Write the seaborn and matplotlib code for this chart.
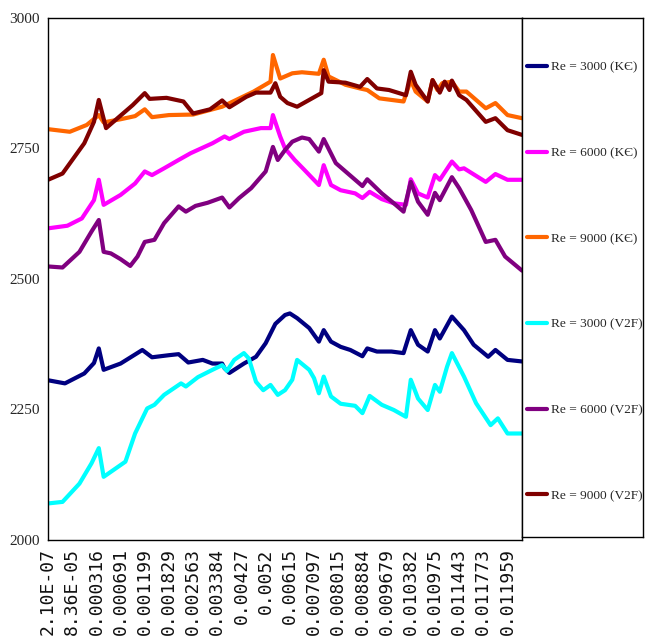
import matplotlib
matplotlib.use("Agg")
import matplotlib.pyplot as plt
import seaborn as sns
import pandas as pd

# Category labels along the x axis (one label every 10 categories)
tick_labels = ["2.10E-07", "8.36E-05", "0.000316", "0.000691", "0.001199",
               "0.001829", "0.002563", "0.003384", "0.00427", "0.0052",
               "0.00615", "0.007097", "0.008015", "0.008884", "0.009679",
               "0.010382", "0.010975", "0.011443", "0.011773", "0.011959"]
n_categories = 197
label_step = 10

series_names = ["Re = 3000 (K\u0404)", "Re = 6000 (K\u0404)", "Re = 9000 (K\u0404)",
                "Re = 3000 (V2F)", "Re = 6000 (V2F)", "Re = 9000 (V2F)"]
series_colors = ["#000080", "#ff00ff", "#ff6600", "#00ffff", "#800080", "#800000"]

# Re = 3000, k-epsilon
ke3000_idx = [0, 7, 15, 19, 21, 23, 30, 39, 43, 50, 54, 58, 64, 68, 72, 73, 75,
              81, 86, 90, 94, 98, 100, 103, 108, 112, 114, 117, 121, 125, 130,
              132, 136, 142, 147, 150, 153, 157, 160, 162, 167, 172, 176, 182,
              185, 190, 196]
ke3000_val = [2306, 2300, 2319, 2339, 2367, 2326, 2338, 2364, 2350, 2354, 2356,
              2340, 2345, 2338, 2338, 2329, 2320, 2338, 2351, 2377, 2414, 2431,
              2434, 2425, 2406, 2380, 2402, 2380, 2370, 2364, 2352, 2367, 2361,
              2361, 2358, 2402, 2374, 2361, 2402, 2386, 2428, 2402, 2374, 2351,
              2364, 2345, 2342]

# Re = 6000, k-epsilon
ke6000_idx = [0, 8, 14, 19, 21, 23, 30, 36, 40, 43, 48, 54, 59, 68, 73, 75, 81,
              88, 92, 93, 96, 98, 102, 106, 112, 114, 117, 121, 127, 130, 133,
              138, 143, 148, 150, 153, 157, 160, 162, 167, 170, 172, 181, 185,
              190, 196]
ke6000_val = [2597, 2602, 2616, 2651, 2690, 2642, 2661, 2683, 2706, 2699, 2712,
              2728, 2741, 2760, 2773, 2768, 2782, 2789, 2789, 2814, 2773, 2750,
              2728, 2709, 2680, 2718, 2680, 2670, 2664, 2655, 2667, 2653, 2645,
              2642, 2691, 2664, 2656, 2699, 2690, 2725, 2710, 2712, 2686, 2701,
              2690, 2690]

# Re = 9000, k-epsilon
ke9000_idx = [0, 9, 16, 21, 23, 30, 36, 40, 43, 50, 60, 72, 85, 92, 93, 96, 101,
              105, 112, 114, 116, 123, 129, 132, 137, 147, 150, 152, 157, 159,
              161, 163, 167, 170, 173, 181, 185, 190, 196]
ke9000_val = [2787, 2782, 2795, 2814, 2800, 2806, 2812, 2825, 2810, 2814, 2815,
              2830, 2859, 2878, 2929, 2884, 2894, 2896, 2893, 2920, 2888, 2872,
              2865, 2862, 2846, 2840, 2881, 2859, 2840, 2881, 2862, 2875, 2878,
              2859, 2859, 2827, 2837, 2814, 2808]

# Re = 3000, V2F
v2f3000_idx = [0, 6, 13, 18, 21, 23, 32, 36, 41, 44, 48, 55, 57, 62, 68, 72, 74,
               77, 81, 83, 86, 89, 92, 95, 98, 101, 103, 108, 110, 112, 114, 117,
               121, 127, 130, 133, 138, 143, 148, 150, 153, 157, 160, 162, 165,
               167, 172, 177, 183, 186, 190, 196]
v2f3000_val = [2070, 2073, 2108, 2147, 2176, 2121, 2150, 2204, 2252, 2259, 2278,
               2300, 2294, 2312, 2326, 2335, 2324, 2345, 2358, 2348, 2303, 2287,
               2297, 2278, 2287, 2307, 2345, 2326, 2310, 2281, 2313, 2275, 2261,
               2257, 2243, 2276, 2259, 2249, 2236, 2307, 2271, 2249, 2297, 2284,
               2332, 2358, 2313, 2262, 2220, 2233, 2204, 2204]

# Re = 6000, V2F
v2f6000_idx = [0, 6, 13, 18, 21, 23, 26, 30, 34, 37, 40, 44, 48, 54, 57, 61, 66,
               72, 75, 79, 84, 90, 93, 95, 98, 101, 105, 108, 112, 114, 119, 124,
               130, 132, 138, 143, 147, 150, 153, 157, 160, 162, 167, 170, 175,
               181, 185, 189, 196]
v2f6000_val = [2524, 2522, 2552, 2591, 2613, 2552, 2549, 2538, 2525, 2543, 2571,
               2575, 2607, 2639, 2629, 2640, 2646, 2656, 2637, 2655, 2674, 2706,
               2753, 2728, 2747, 2763, 2771, 2768, 2744, 2768, 2722, 2702, 2678,
               2691, 2664, 2645, 2629, 2686, 2648, 2623, 2665, 2651, 2695, 2674,
               2632, 2571, 2575, 2543, 2516]

# Re = 9000, V2F
v2f9000_idx = [0, 6, 15, 19, 21, 24, 28, 35, 40, 42, 49, 56, 60, 67, 72, 75, 82,
               86, 92, 94, 96, 99, 103, 108, 113, 114, 116, 123, 129, 132, 136,
               141, 148, 150, 152, 157, 159, 162, 164, 166, 167, 170, 173, 181,
               185, 190, 196]
v2f9000_val = [2690, 2702, 2760, 2801, 2843, 2789, 2805, 2833, 2856, 2845, 2847,
               2840, 2817, 2825, 2842, 2829, 2849, 2857, 2857, 2875, 2849, 2837,
               2830, 2843, 2856, 2900, 2878, 2876, 2868, 2883, 2865, 2862, 2852,
               2897, 2872, 2840, 2881, 2857, 2878, 2862, 2880, 2852, 2843, 2801,
               2808, 2785, 2776]

series_idx = [ke3000_idx, ke6000_idx, ke9000_idx, v2f3000_idx, v2f6000_idx, v2f9000_idx]
series_val = [ke3000_val, ke6000_val, ke9000_val, v2f3000_val, v2f6000_val, v2f9000_val]

frames = []
for name, xs, ys in zip(series_names, series_idx, series_val):
    frames.append(pd.DataFrame({"category": xs, "value": ys, "series": name}))
df = pd.concat(frames, ignore_index=True)

sns.set_style("white")
plt.rcParams["font.family"] = ["Liberation Serif", "DejaVu Serif"]

fig = plt.figure(figsize=(6.55, 6.44), dpi=100)
ax = fig.add_axes([0.0733, 0.1615, 0.7237, 0.8106])

for name, color in zip(series_names, series_colors):
    sub = df[df["series"] == name]
    sns.lineplot(data=sub, x="category", y="value", color=color, linewidth=3.0,
                 label=name, legend=False, ax=ax, sort=False)

ax.set_xlim(0, n_categories - 1)
ax.set_ylim(2000, 3000)
ax.set_yticks([2000, 2250, 2500, 2750, 3000])
ax.set_yticklabels(["2000", "2250", "2500", "2750", "3000"], fontsize=11,
                   family="Liberation Serif")
ax.set_xticks(range(0, n_categories, label_step))
ax.set_xticklabels(tick_labels, rotation=90, fontsize=13, family="DejaVu Sans Mono",
                   va="top", ha="center", color="#111111")
ax.set_xticks(range(n_categories), minor=True)
ax.tick_params(axis="x", which="both", direction="out", length=3, width=0.8,
               color="black", pad=3)
ax.tick_params(axis="y", direction="out", length=4, width=1.0, color="black", pad=2)
ax.set_xlabel("")
ax.set_ylabel("")
for side in ["left", "bottom", "top", "right"]:
    ax.spines[side].set_visible(True)
    ax.spines[side].set_color("black")
    ax.spines[side].set_linewidth(1.0)

# Legend in its own boxed panel on the right
handles, labels = ax.get_legend_handles_labels()
leg_ax = fig.add_axes([0.797, 0.1661, 0.1847, 0.8059])
leg_ax.set_xticks([])
leg_ax.set_yticks([])
for side in leg_ax.spines.values():
    side.set_visible(True)
    side.set_color("black")
    side.set_linewidth(1.0)
leg = leg_ax.legend(handles, labels, loc="center left", bbox_to_anchor=(0.0, 0.492),
                    frameon=False, fontsize=9.6, labelspacing=5.5, handlelength=1.45,
                    handletextpad=0.35, borderaxespad=0.0, borderpad=0.4)
for line in leg.get_lines():
    line.set_linewidth(3.0)

fig.savefig("out.png", dpi=100, facecolor="white")
